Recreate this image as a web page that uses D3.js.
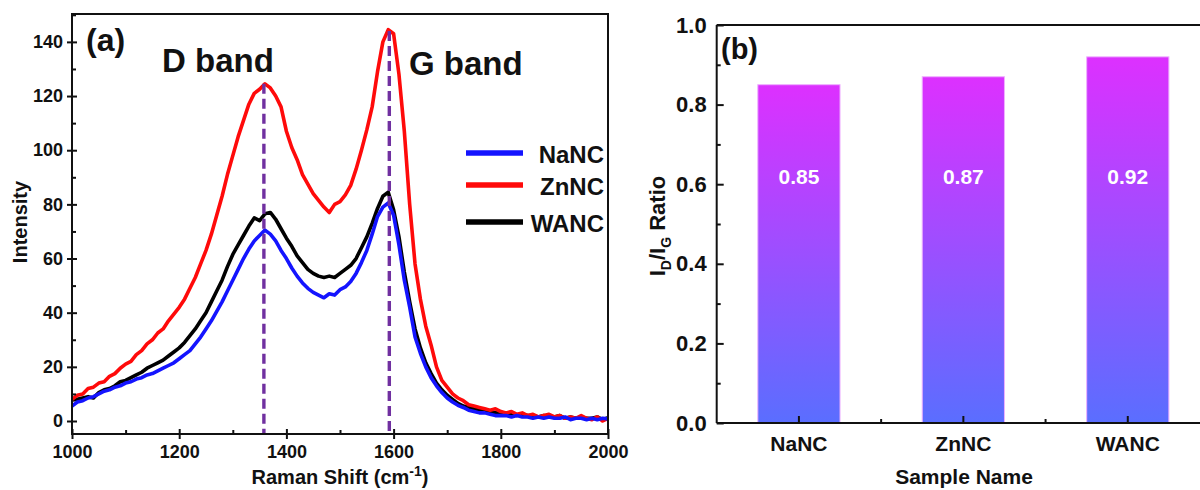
<!DOCTYPE html>
<html><head><meta charset="utf-8">
<script src="https://cdn.jsdelivr.net/npm/d3@7"></script>
<style>
body{margin:0;background:#fff}
text{font-family:"Liberation Sans",Arial,sans-serif;font-weight:bold;fill:#111}
</style>
</head><body><svg id="c" width="1200" height="490"></svg>
<script>
// ---------------- data ----------------
const ramanShift = d3.range(1000, 2001, 10);
const NaNC = [5.5,7,7.5,8.5,9,10,11,11.5,12.5,13,14,14.5,15.5,16,17,17.5,18.5,19.5,20.5,21.5,
  23,24.5,26,28.5,31,34,37,40.5,44,48,52,56,60,63.5,66.5,68.5,70.5,69,66.5,63,
  60,56.5,53.5,51,49,47.5,46.5,45.5,47,46.5,48.5,49.5,51.5,54.5,58.5,63,69,75.5,79,80.5,
  76,65,52,42,31,25,20,16,13,10.5,8.5,7,5.8,5,4,3.5,3,3,2.5,2,
  2,2,1.5,2,1.5,1.5,1,1.5,1,1.5,1,1,1.5,0.5,1,1,0.5,1,0.5,1,0.8];
const ZnNC = [8,9.5,10,12,12.5,14,14.5,16.5,17.5,19.5,21,22,24.5,26,28.5,30,32.5,34,37,39.5,
  42,45,49,53,58,63,69,76,83,91,98,105,111,117,121,122.5,124.5,123,120,116,
  107,101,96.5,91,87.5,84,81.5,79,77,80,81,83.5,87,93,100,107.5,116,129,140,144.5,
  143,128,107,80,58,45,35,28,20,15,12.5,10,8.5,7.5,6,5.5,5,4.5,4,4.5,
  3.5,3,3.5,2.5,3,2,2.5,1.5,2,2.5,1.5,2,1,1.5,1,2,1,0.5,1.5,0,1];
const WANC = [7.8,8,8.5,9,8.5,10.5,11.5,12,13,14.5,15,16,17,18,19.5,20.5,21.5,22.5,24,25.5,
  27,29,31.5,34,37,40,44,48,52,57,61.5,65,68.5,72,75,74,76.5,77,74.5,71,
  67.5,64.5,61,58.5,56,54.5,53.5,53,53.5,53,54.5,56,57.5,60,64,68,73,78.5,83,84.5,
  78,68,55,44,34,27,21.5,17.5,14,11.5,9.5,8,6.5,5.5,5,4.5,4,3.5,3.5,3,
  3,2.5,2.5,2,2.5,2,2,1.5,2,1.5,1.5,2,1,1.5,1,1.5,1,1,1.5,0.5,1.2];
const seriesNames = ["NaNC","ZnNC","WANC"];
const seriesColors = ["#1414ff","#ff0a0a","#000000"];
const bandPos = [1358, 1592];
const bandTop = [124.5, 144];
const ramanXTicks = [1000,1200,1400,1600,1800,2000];
const intensityTicks = [0,20,40,60,80,100,120,140];

const samples = ["NaNC","ZnNC","WANC"];
const ratios = [0.85,0.87,0.92];
const ratioTicks = [0,0.2,0.4,0.6,0.8,1.0];

// ---------------- panel (a) ----------------
const svg = d3.select("#c");
const xa = d3.scaleLinear().domain([1000,2000]).range([72,608]);
const ya = d3.scaleLinear().domain([-4.8,150.3]).range([434,14]);
const ga = svg.append("g");

const curves = [
  {name:"WANC", vals:WANC, color:seriesColors[2]},
  {name:"ZnNC", vals:ZnNC, color:seriesColors[1]},
  {name:"NaNC", vals:NaNC, color:seriesColors[0]}
];
const line = d3.line().x(d=>xa(d[0])).y(d=>ya(d[1]));
curves.forEach(c=>{
  ga.append("path").datum(ramanShift.map((v,i)=>[v,c.vals[i]]))
    .attr("d",line).attr("fill","none").attr("stroke",c.color)
    .attr("stroke-width",3.6).attr("stroke-linejoin","round");
});
// band guides
bandPos.forEach((p,i)=>{
  ga.append("line").attr("x1",xa(p)).attr("x2",xa(p))
    .attr("y1",ya(bandTop[i])).attr("y2",434)
    .attr("stroke","#7030a0").attr("stroke-width",3.4).attr("stroke-dasharray","10,5");
});
// frame
ga.append("rect").attr("x",72).attr("y",14).attr("width",536).attr("height",420)
  .attr("fill","none").attr("stroke","#111").attr("stroke-width",2);

function styleAxis(g){ g.select(".domain").remove(); g.selectAll("line").attr("stroke","#111").attr("stroke-width",2); }
function styleText(size){ return g=>g.selectAll("text").attr("font-size",size).attr("font-family","Liberation Sans, Arial").attr("font-weight","bold").attr("fill","#111"); }
// x axis
ga.append("g").attr("transform","translate(0,434)")
  .call(d3.axisBottom(xa).tickValues(ramanXTicks).tickSize(5).tickPadding(6).tickFormat(d3.format("d")))
  .call(styleAxis).call(styleText(18));
ga.append("g").attr("transform","translate(0,434)")
  .call(d3.axisBottom(xa).tickValues(ramanXTicks).tickSize(-5).tickFormat(""))
  .call(styleAxis);
ga.append("g").attr("transform","translate(0,434)")
  .call(d3.axisBottom(xa).tickValues([1100,1300,1500,1700,1900]).tickSize(-4).tickFormat(""))
  .call(styleAxis);
// y axis
ga.append("g").attr("transform","translate(72,0)")
  .call(d3.axisLeft(ya).tickValues(intensityTicks).tickSize(5).tickPadding(4))
  .call(styleAxis).call(styleText(18));
ga.append("g").attr("transform","translate(72,0)")
  .call(d3.axisLeft(ya).tickValues(intensityTicks).tickSize(-5).tickFormat(""))
  .call(styleAxis);
ga.append("g").attr("transform","translate(72,0)")
  .call(d3.axisLeft(ya).tickValues([10,30,50,70,90,110,130,150]).tickSize(-4).tickFormat(""))
  .call(styleAxis);

// titles
const xt = ga.append("text").attr("x",340).attr("y",484).attr("text-anchor","middle").attr("font-size",20);
xt.append("tspan").text("Raman Shift (cm");
xt.append("tspan").attr("dy",-8).attr("font-size",14).text("-1");
xt.append("tspan").attr("dy",8).text(")");
ga.append("text").attr("transform","translate(27,222) rotate(-90)").attr("text-anchor","middle")
  .attr("font-size",20).text("Intensity");
ga.append("text").attr("x",86).attr("y",51).attr("font-size",32).text("(a)");
ga.append("text").attr("x",162).attr("y",72).attr("font-size",33).text("D band");
ga.append("text").attr("x",409).attr("y",75).attr("font-size",33).text("G band");

// legend
const legY = [153,185,222];
seriesNames.forEach((n,i)=>{
  ga.append("line").attr("x1",466).attr("x2",523).attr("y1",legY[i]).attr("y2",legY[i])
    .attr("stroke",seriesColors[i]).attr("stroke-width",5.5);
  ga.append("text").attr("x",604).attr("y",legY[i]+9.5).attr("text-anchor","end")
    .attr("font-size",24).text(n);
});

// ---------------- panel (b) ----------------
const gb = svg.append("g");
const xb = d3.scaleBand().domain(samples).range([716.7,1210]).paddingInner(0.5).paddingOuter(0.25);
const yb = d3.scaleLinear().domain([0,1]).range([423,25]);
const defs = svg.append("defs");
const grad = defs.append("linearGradient").attr("id","barGrad").attr("x1",0).attr("y1",0).attr("x2",0).attr("y2",1);
grad.append("stop").attr("offset","0%").attr("stop-color","#dd30ff");
grad.append("stop").attr("offset","100%").attr("stop-color","#5a6eff");

gb.selectAll("rect.bar").data(samples).join("rect").attr("class","bar")
  .attr("x",d=>xb(d)).attr("width",xb.bandwidth())
  .attr("y",(d,i)=>yb(ratios[i])).attr("height",(d,i)=>yb(0)-yb(ratios[i]))
  .attr("fill","url(#barGrad)").attr("stroke","#eeb0ff").attr("stroke-width",1);
gb.selectAll("text.val").data(samples).join("text").attr("class","val")
  .attr("x",d=>xb(d)+xb.bandwidth()/2).attr("y",yb(0.62)+8)
  .attr("text-anchor","middle").attr("font-size",21).style("fill","#fff")
  .text((d,i)=>d3.format(".2f")(ratios[i]));

// frame lines
gb.append("line").attr("x1",716.7).attr("x2",1210).attr("y1",25).attr("y2",25).attr("stroke","#111").attr("stroke-width",2);
gb.append("line").attr("x1",716.7).attr("x2",716.7).attr("y1",25).attr("y2",423).attr("stroke","#111").attr("stroke-width",2);
gb.append("line").attr("x1",716.7).attr("x2",1210).attr("y1",423).attr("y2",423).attr("stroke","#111").attr("stroke-width",2);

gb.append("g").attr("transform","translate(716.7,0)")
  .call(d3.axisLeft(yb).tickValues(ratioTicks).tickSize(-7).tickPadding(10).tickFormat(d3.format(".1f")))
  .call(styleAxis).call(styleText(22));
gb.append("g").attr("transform","translate(716.7,0)")
  .call(d3.axisLeft(yb).tickValues([0.1,0.3,0.5,0.7,0.9]).tickSize(-4).tickFormat(""))
  .call(styleAxis);
gb.append("g").attr("transform","translate(0,423)")
  .call(d3.axisBottom(xb).tickSize(-7).tickPadding(13))
  .call(styleAxis).call(styleText(21));
// minor ticks between categories
const between = samples.slice(1).map((d,i)=>(xb(samples[i])+xb.bandwidth()/2 + xb(d)+xb.bandwidth()/2)/2);
gb.selectAll("line.minor").data(between).join("line").attr("class","minor")
  .attr("x1",d=>d).attr("x2",d=>d).attr("y1",423).attr("y2",419).attr("stroke","#111").attr("stroke-width",2);

const yt = gb.append("text").attr("transform","translate(665,226) rotate(-90)").attr("text-anchor","middle").attr("font-size",22);
yt.append("tspan").text("I");
yt.append("tspan").attr("dy",6).attr("font-size",14).text("D");
yt.append("tspan").attr("dy",-6).text("/I");
yt.append("tspan").attr("dy",6).attr("font-size",14).text("G");
yt.append("tspan").attr("dy",-6).text(" Ratio");
gb.append("text").attr("x",964).attr("y",484).attr("text-anchor","middle").attr("font-size",21).text("Sample Name");
gb.append("text").attr("x",721).attr("y",59).attr("font-size",29).text("(b)");
</script>
</body></html>
